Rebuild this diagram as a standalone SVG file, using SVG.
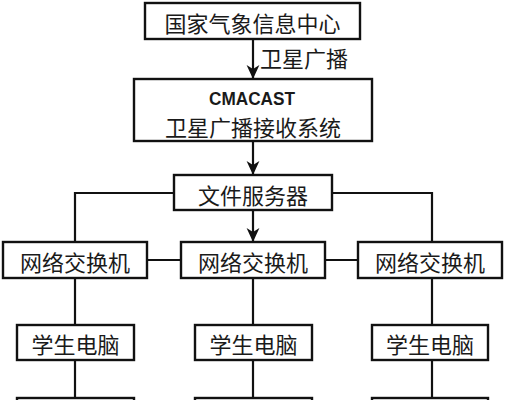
<svg xmlns="http://www.w3.org/2000/svg" width="506" height="400" viewBox="0 0 506 400">
<style>
.box{fill:#fff;stroke:#111;stroke-width:2.4}
.ln{fill:none;stroke:#111;stroke-width:2.2}
text{font-family:"Noto Sans CJK SC","Noto Sans",sans-serif;font-size:22px;fill:#1a1a1a;text-anchor:middle;dominant-baseline:central}
.lat{font-family:"Liberation Sans",Arial,sans-serif;font-size:19px;font-weight:bold;dominant-baseline:auto}
</style>
<defs>
<marker id="arr" markerUnits="userSpaceOnUse" markerWidth="14" markerHeight="14" viewBox="0 0 12 12" refX="12" refY="6" orient="auto">
<path d="M0,0.5 L12,6 L0,11.5 L3.5,6 z" fill="#111"/>
</marker>
</defs>
<rect width="506" height="400" fill="#fff"/>
<g id="connectors">
<line class="ln" x1="253" y1="39" x2="253" y2="79" marker-end="url(#arr)"/>
<line class="ln" x1="253" y1="141" x2="253" y2="175" marker-end="url(#arr)"/>
<line class="ln" x1="253" y1="210" x2="253" y2="242" marker-end="url(#arr)"/>
<polyline class="ln" points="174,193 75,193 75,242"/>
<polyline class="ln" points="332,193 432,193 432,242"/>
<line class="ln" x1="147" y1="260" x2="181" y2="260"/>
<line class="ln" x1="325" y1="260" x2="358" y2="260"/>
<line class="ln" x1="75" y1="278" x2="75" y2="325"/>
<line class="ln" x1="253" y1="278" x2="253" y2="325"/>
<line class="ln" x1="432" y1="278" x2="432" y2="325"/>
<line class="ln" x1="75" y1="360" x2="75" y2="398"/>
<line class="ln" x1="253" y1="360" x2="253" y2="398"/>
<line class="ln" x1="432" y1="360" x2="432" y2="398"/>
<text x="304" y="57">卫星广播</text>
</g>
<g id="nmic">
<rect class="box" x="145" y="3" width="215" height="36"/>
<text x="252.5" y="22">国家气象信息中心</text>
</g>
<g id="cmacast">
<rect class="box" x="134" y="79" width="238" height="62"/>
<text class="lat" x="252" y="105" textLength="86" lengthAdjust="spacingAndGlyphs">CMACAST</text>
<text x="253" y="125.5">卫星广播接收系统</text>
</g>
<g id="fileserver">
<rect class="box" x="174" y="175" width="158" height="35"/>
<text x="253" y="193.5">文件服务器</text>
</g>
<g id="switch1">
<rect class="box" x="3" y="242" width="144" height="36"/>
<text x="75" y="260.5">网络交换机</text>
</g>
<g id="switch2">
<rect class="box" x="181" y="242" width="144" height="36"/>
<text x="253" y="260.5">网络交换机</text>
</g>
<g id="switch3">
<rect class="box" x="358" y="242" width="144" height="36"/>
<text x="430" y="260.5">网络交换机</text>
</g>
<g id="pc1">
<rect class="box" x="17" y="325" width="117" height="35"/>
<text x="75.5" y="343">学生电脑</text>
</g>
<g id="pc2">
<rect class="box" x="195" y="325" width="117" height="35"/>
<text x="253.5" y="343">学生电脑</text>
</g>
<g id="pc3">
<rect class="box" x="372" y="325" width="116" height="35"/>
<text x="430" y="343">学生电脑</text>
</g>
<g id="bottom1"><rect class="box" x="17" y="398" width="117" height="30"/></g>
<g id="bottom2"><rect class="box" x="195" y="398" width="117" height="30"/></g>
<g id="bottom3"><rect class="box" x="372" y="398" width="116" height="30"/></g>
</svg>
